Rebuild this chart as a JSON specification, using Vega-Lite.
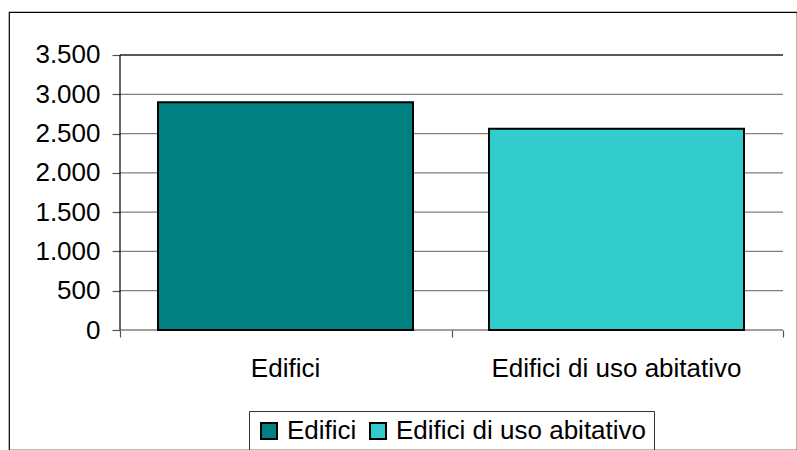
{
  "$schema": "https://vega.github.io/schema/vega-lite/v6.json",
  "autosize": "none",
  "width": 788,
  "height": 438,
  "padding": {"left": 9, "top": 12, "right": 0, "bottom": 0},
  "background": "white",
  "config": {
    "font": "Liberation Sans",
    "view": {"stroke": "black", "strokeWidth": 1.2}
  },
  "datasets": {
    "bars": [
      {"cat": "Edifici", "value": 2900},
      {"cat": "Edifici di uso abitativo", "value": 2560}
    ],
    "grid": [
      {"v": 0}, {"v": 500}, {"v": 1000}, {"v": 1500},
      {"v": 2000}, {"v": 2500}, {"v": 3000}, {"v": 3500}
    ]
  },
  "layer": [
    {
      "data": {"name": "grid"},
      "mark": {"type": "rule", "strokeWidth": 1.3},
      "encoding": {
        "y": {
          "field": "v", "type": "quantitative",
          "scale": {"domain": [-1527.27, 4047.27], "nice": false, "zero": false},
          "axis": {
            "orient": "left", "offset": -111, "values": [0, 500, 1000, 1500, 2000, 2500, 3000, 3500],
            "domain": false, "grid": false, "tickSize": 8, "tickColor": "#555555", "tickWidth": 1.2,
            "labelFontSize": 26, "labelColor": "black", "labelPadding": 12, "title": null,
            "labelExpr": "replace(format(datum.value, ','), ',', '.')"
          }
        },
        "x": {
          "datum": 0, "type": "quantitative",
          "scale": {"domain": [-0.167421, 1.021116], "nice": false, "zero": false},
          "axis": {
            "orient": "bottom", "offset": -120, "values": [0, 0.5, 1], "domain": false, "grid": false,
            "labels": false, "tickSize": 7, "tickColor": "#555555", "tickWidth": 1.2, "title": null
          }
        },
        "x2": {"datum": 1},
        "color": {
          "condition": {"test": "datum.v == 3500", "value": "#222222"},
          "value": "#808080"
        }
      }
    },
    {
      "data": {"values": [{"a": 0}]},
      "mark": {"type": "rule", "color": "black", "strokeWidth": 1.2},
      "encoding": {
        "x": {"datum": 0, "type": "quantitative", "scale": {"domain": [-0.167421, 1.021116], "nice": false, "zero": false}, "axis": null},
        "y": {"datum": 0, "type": "quantitative", "scale": {"domain": [-1527.27, 4047.27], "nice": false, "zero": false}},
        "y2": {"datum": 3500}
      }
    },
    {
      "data": {"name": "bars"},
      "mark": {"type": "bar", "stroke": "black", "strokeWidth": 2},
      "encoding": {
        "x": {
          "field": "cat", "type": "nominal", "sort": null,
          "scale": {"paddingInner": 0.229607, "paddingOuter": 0.305136, "align": 0.7376},
          "axis": {
            "orient": "bottom", "offset": -120, "domain": false, "ticks": false, "grid": false,
            "labelAngle": 0, "labelFontSize": 26, "labelColor": "black", "labelPadding": 25, "title": null,
            "labelLimit": 0
          }
        },
        "y": {
          "field": "value", "type": "quantitative",
          "scale": {"domain": [-1527.27, 4047.27], "nice": false, "zero": false}
        },
        "y2": {"datum": 0},
        "color": {
          "field": "cat", "type": "nominal",
          "scale": {"domain": ["Edifici", "Edifici di uso abitativo"], "range": ["#008080", "#33CCCC"]},
          "legend": {
            "title": null, "orient": "none", "legendX": 240, "legendY": 399,
            "direction": "horizontal", "columns": 2,
            "strokeColor": "#333333", "padding": 7,
            "symbolType": "square", "symbolSize": 256, "symbolStrokeColor": "black", "symbolStrokeWidth": 2,
            "symbolOpacity": 1,
            "labelFontSize": 26, "labelColor": "black", "labelOffset": 5, "columnPadding": 8,
            "labelLimit": 0
          }
        }
      }
    }
  ],
  "resolve": {"scale": {"x": "independent"}, "axis": {"x": "independent"}}
}
